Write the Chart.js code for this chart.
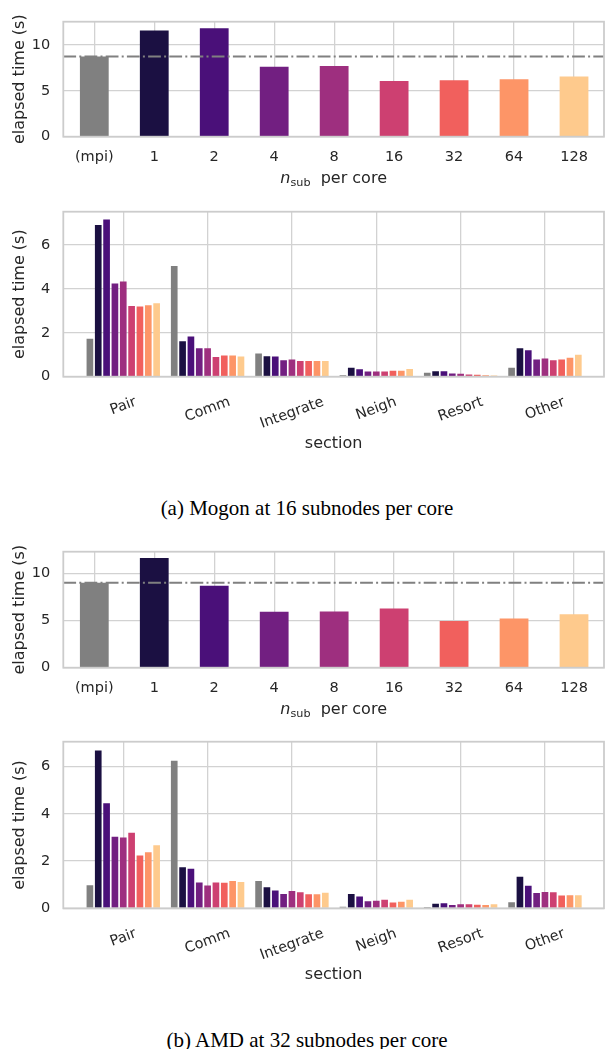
<!DOCTYPE html>
<html>
<head>
<meta charset="utf-8">
<script src="https://cdn.jsdelivr.net/npm/chart.js@4.4.1/dist/chart.umd.min.js"></script>
<style>
  html, body { margin: 0; padding: 0; background: #ffffff; }
  body { width: 605px; height: 1049px; position: relative; overflow: hidden; }
  canvas { position: absolute; left: 0; }
  .cap {
    position: absolute; left: 0; width: 614px; text-align: center;
    font-family: 'Liberation Serif', 'Times New Roman', serif;
    font-size: 21px; line-height: 24px; color: #000000;
  }
</style>
</head>
<body>
<canvas id="mogonTotal" width="605" height="195" style="top:0px"></canvas>
<canvas id="mogonSections" width="605" height="270" style="top:190px"></canvas>
<div class="cap" style="top:496px">(a) Mogon at 16 subnodes per core</div>
<canvas id="amdTotal" width="605" height="195" style="top:530px"></canvas>
<canvas id="amdSections" width="605" height="270" style="top:720px"></canvas>
<div class="cap" style="top:1028px">(b) AMD at 32 subnodes per core</div>

<script>
// ---- data -------------------------------------------------------------
const nsubLabels = ['(mpi)', '1', '2', '4', '8', '16', '32', '64', '128'];
const sectionLabels = ['Pair', 'Comm', 'Integrate', 'Neigh', 'Resort', 'Other'];

// total elapsed time per n_sub (s)
const mogonTotals = [8.74, 11.58, 11.82, 7.61, 7.71, 6.06, 6.14, 6.27, 6.55];
const amdTotals   = [9.01, 11.62, 8.68, 5.93, 5.97, 6.27, 4.95, 5.22, 5.66];

// per-section time (s), one array per n_sub, in sectionLabels order
const mogon_mpi = [1.73, 5.04, 1.06, 0.07, 0.18, 0.41];
const mogon_1   = [6.90, 1.61, 0.93, 0.41, 0.25, 1.30];
const mogon_2   = [7.15, 1.83, 0.92, 0.34, 0.25, 1.20];
const mogon_4   = [4.24, 1.29, 0.75, 0.24, 0.15, 0.78];
const mogon_8   = [4.33, 1.29, 0.78, 0.24, 0.13, 0.83];
const mogon_16  = [3.22, 0.90, 0.72, 0.24, 0.10, 0.75];
const mogon_32  = [3.19, 0.96, 0.71, 0.27, 0.09, 0.78];
const mogon_64  = [3.25, 0.96, 0.71, 0.27, 0.07, 0.86];
const mogon_128 = [3.34, 0.92, 0.71, 0.35, 0.06, 1.00];

const amd_mpi = [0.98, 6.24, 1.16, 0.07, 0.06, 0.26];
const amd_1   = [6.68, 1.74, 0.89, 0.61, 0.19, 1.33];
const amd_2   = [4.45, 1.67, 0.75, 0.50, 0.21, 0.95];
const amd_4   = [3.03, 1.09, 0.61, 0.30, 0.14, 0.65];
const amd_8   = [3.00, 0.97, 0.73, 0.32, 0.17, 0.69];
const amd_16  = [3.20, 1.09, 0.68, 0.36, 0.17, 0.68];
const amd_32  = [2.23, 1.08, 0.59, 0.25, 0.15, 0.54];
const amd_64  = [2.37, 1.15, 0.59, 0.28, 0.14, 0.55];
const amd_128 = [2.67, 1.11, 0.66, 0.36, 0.17, 0.55];

const mogonSeries = [mogon_mpi, mogon_1, mogon_2, mogon_4, mogon_8, mogon_16, mogon_32, mogon_64, mogon_128];
const amdSeries   = [amd_mpi, amd_1, amd_2, amd_4, amd_8, amd_16, amd_32, amd_64, amd_128];

// ---- styling -----------------------------------------------------------
const hueColors = ['#808080', '#1b1042', '#4a1079', '#721f81', '#9e2f7f',
                   '#cd4071', '#f1605d', '#fd9567', '#feca8d'];
const TEXT = '#262626';
const GRID = '#d2d2d2';
const FONT = "'DejaVu Sans', sans-serif";

Chart.defaults.font.family = FONT;
Chart.defaults.font.size = 14.5;
Chart.defaults.color = TEXT;
Chart.defaults.animation = false;
Chart.defaults.events = [];

// full box around the plotting area, drawn over the bars
const frame = {
  id: 'frame',
  afterDatasetsDraw(chart) {
    const { ctx, chartArea: a } = chart;
    ctx.save();
    ctx.strokeStyle = '#cccccc';
    ctx.lineWidth = 1.8;
    ctx.strokeRect(a.left, a.top, a.right - a.left, a.bottom - a.top);
    ctx.restore();
  }
};

// "n_sub per core" axis title with a real subscript
const nsubTitle = {
  id: 'nsubTitle',
  afterDraw(chart, args, opts) {
    const { ctx, chartArea: a } = chart;
    const parts = [
      { t: 'n', f: "italic 16px " + FONT, dy: 0 },
      { t: 'sub', f: "11.2px " + FONT, dy: 3.5 },
      { t: '  per core', f: "16px " + FONT, dy: 0 }
    ];
    ctx.save();
    ctx.fillStyle = TEXT;
    ctx.textBaseline = 'alphabetic';
    ctx.textAlign = 'left';
    let total = 0;
    parts.forEach(p => { ctx.font = p.f; p.w = ctx.measureText(p.t).width; total += p.w; });
    let x = (a.left + a.right) / 2 - total / 2;
    const y = a.bottom + opts.offset;
    parts.forEach(p => { ctx.font = p.f; ctx.fillText(p.t, x, y + p.dy); x += p.w; });
    ctx.restore();
  }
};

// slanted category labels centred under each group
const slantedTicks = {
  id: 'slantedTicks',
  afterDraw(chart, args, opts) {
    const { ctx, chartArea: a } = chart;
    const xs = chart.scales.x;
    const fs = opts.size;
    const ang = opts.angle * Math.PI / 180;
    ctx.save();
    ctx.font = fs + 'px ' + FONT;
    ctx.fillStyle = TEXT;
    ctx.textAlign = 'center';
    ctx.textBaseline = 'middle';
    opts.labels.forEach((lab, i) => {
      const w = ctx.measureText(lab).width;
      const h = fs * 1.164;
      const bh = w * Math.sin(ang) + h * Math.cos(ang);
      const cx = xs.getPixelForValue(i);
      const cy = a.bottom + opts.pad + bh / 2;
      ctx.save();
      ctx.translate(cx, cy);
      ctx.rotate(-ang);
      ctx.fillText(lab, 0, 0);
      ctx.restore();
    });
    ctx.restore();
  }
};

function yAxis(max, step) {
  return {
    type: 'linear', min: 0, max: max,
    afterFit(s) { s.width = 63.3; },
    grid: { color: GRID, lineWidth: 1.3, drawTicks: false },
    border: { display: false },
    ticks: { stepSize: step, includeBounds: false, padding: 13, font: { size: 14.5 } },
    title: { display: true, text: 'elapsed time (s)', font: { size: 16 }, color: TEXT,
             padding: { top: 10.5, bottom: 0 } }
  };
}

function totalChart(id, totals, yMax, padTop, axisH) {
  const xMin = -0.517, xMax = 8.5;
  new Chart(document.getElementById(id), {
    type: 'bar',
    data: {
      datasets: [
        {
          type: 'line',
          data: [{ x: xMin, y: totals[0] }, { x: xMax, y: totals[0] }],
          borderColor: '#808080', borderWidth: 2,
          borderDash: [12.8, 3.2, 2, 3.2],
          pointRadius: 0, order: 1
        },
        {
          type: 'bar',
          data: totals.map((v, i) => ({ x: i, y: v })),
          backgroundColor: hueColors,
          borderWidth: 0,
          categoryPercentage: 1, barPercentage: 0.48,
          order: 2
        }
      ]
    },
    options: {
      responsive: false,
      layout: { padding: { top: padTop, right: 1, bottom: 0, left: 0 } },
      plugins: { legend: { display: false }, tooltip: { enabled: false },
                 nsubTitle: { offset: 46 } },
      scales: {
        x: {
          type: 'linear', min: xMin, max: xMax, offset: false,
          afterFit(s) { s.height = axisH; },
          grid: { color: GRID, lineWidth: 1.3, drawTicks: false, offset: false },
          border: { display: false },
          ticks: { stepSize: 1, includeBounds: false, padding: 11.5, maxRotation: 0,
                   autoSkip: false, font: { size: 14.5 },
                   callback: v => nsubLabels[v] }
        },
        y: yAxis(yMax, 5)
      }
    },
    plugins: [frame, nsubTitle]
  });
}

function sectionChart(id, series, yMax, padTop, axisH, titlePad) {
  const xMin = -0.711, xMax = 5.70;
  new Chart(document.getElementById(id), {
    type: 'bar',
    data: {
      datasets: series.map((vals, k) => ({
        label: nsubLabels[k],
        data: vals.map((v, i) => ({ x: i, y: v })),
        backgroundColor: hueColors[k],
        borderWidth: 0,
        categoryPercentage: 0.89, barPercentage: 0.8
      }))
    },
    options: {
      responsive: false,
      layout: { padding: { top: padTop, right: 1, bottom: 0, left: 0 } },
      plugins: { legend: { display: false }, tooltip: { enabled: false },
                 slantedTicks: { labels: sectionLabels, size: 14.5, angle: 20, pad: 17 } },
      scales: {
        x: {
          type: 'linear', min: xMin, max: xMax, offset: false,
          afterFit(s) { s.height = axisH; },
          grid: { color: GRID, lineWidth: 1.3, drawTicks: false, offset: false },
          border: { display: false },
          ticks: { display: false, stepSize: 1, includeBounds: false },
          title: { display: true, text: 'section', font: { size: 16 }, color: TEXT,
                   padding: { top: 0, bottom: titlePad } }
        },
        y: yAxis(yMax, 2)
      }
    },
    plugins: [frame, slantedTicks]
  });
}

totalChart('mogonTotal', mogonTotals, 12.53, 14.7, 58.3);
sectionChart('mogonSections', mogonSeries, 7.51, 17.0, 83.3, 6.6);
totalChart('amdTotal', amdTotals, 12.3, 16.7, 57.3);
sectionChart('amdSections', amdSeries, 7.05, 18.3, 81.7, 6.0);
</script>
</body>
</html>
